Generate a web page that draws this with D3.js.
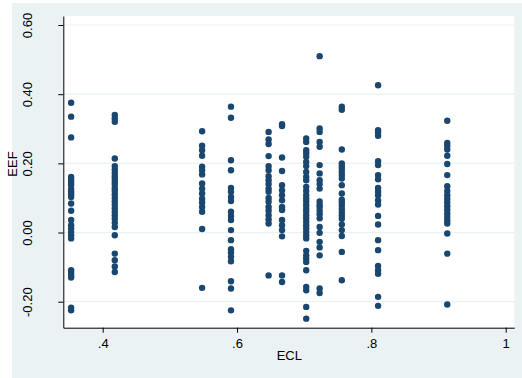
<!DOCTYPE html>
<html>
<head>
<meta charset="utf-8">
<script src="https://cdn.jsdelivr.net/npm/d3@7"></script>
<style>
  html, body { margin: 0; padding: 0; background: #ffffff; }
  svg { display: block; font-family: "Liberation Sans", Arial, sans-serif; }
</style>
</head>
<body>
<svg id="chart" width="522" height="378"></svg>
<script>
// ---- data ----
const eclValues = [0.353, 0.418, 0.548, 0.591, 0.647, 0.667, 0.703, 0.723, 0.756, 0.810, 0.913];

const eef0353 = [0.375, 0.335, 0.275, 0.161, 0.153, 0.146, 0.138, 0.126, 0.118, 0.111, 0.103, 0.084, 0.063, 0.036, 0.021, 0.012, 0.002, -0.008, -0.017, -0.109, -0.117, -0.124, -0.130, -0.217, -0.225];
const eef0418 = [0.34, 0.33, 0.32, 0.214, 0.192, 0.182, 0.172, 0.163, 0.155, 0.146, 0.138, 0.128, 0.120, 0.110, 0.100, 0.090, 0.080, 0.070, 0.060, 0.050, 0.040, 0.028, 0.016, -0.008, -0.061, -0.080, -0.098, -0.114];
const eef0548 = [0.293, 0.251, 0.238, 0.222, 0.190, 0.180, 0.168, 0.142, 0.127, 0.113, 0.098, 0.087, 0.074, 0.060, 0.010, -0.160];
const eef0591 = [0.364, 0.332, 0.209, 0.180, 0.129, 0.118, 0.103, 0.091, 0.060, 0.048, 0.036, 0.007, -0.022, -0.048, -0.058, -0.070, -0.083, -0.141, -0.162, -0.225];
const eef0647 = [0.291, 0.269, 0.256, 0.221, 0.192, 0.180, 0.163, 0.151, 0.140, 0.127, 0.118, 0.100, 0.089, 0.074, 0.063, 0.050, 0.038, 0.026, -0.124];
const eef0667 = [0.313, 0.308, 0.217, 0.178, 0.137, 0.122, 0.108, 0.093, 0.074, 0.065, 0.036, 0.021, 0.007, -0.011, -0.124, -0.143];
const eef0703 = [0.272, 0.262, 0.238, 0.229, 0.219, 0.204, 0.192, 0.175, 0.161, 0.151, 0.132, 0.120, 0.108, 0.098, 0.089, 0.079, 0.069, 0.060, 0.050, 0.041, 0.031, 0.021, 0.012, 0.002, -0.008, -0.017, -0.053, -0.066, -0.075, -0.085, -0.109, -0.157, -0.167, -0.215, -0.249];
const eef0723 = [0.510, 0.301, 0.291, 0.262, 0.248, 0.195, 0.171, 0.151, 0.140, 0.127, 0.090, 0.080, 0.074, 0.063, 0.053, 0.041, 0.016, -0.001, -0.027, -0.043, -0.066, -0.162, -0.175];
const eef0756 = [0.364, 0.355, 0.240, 0.200, 0.192, 0.185, 0.176, 0.166, 0.156, 0.137, 0.113, 0.095, 0.087, 0.078, 0.068, 0.058, 0.049, 0.040, 0.023, 0.007, -0.010, -0.056, -0.138];
const eef0810 = [0.426, 0.296, 0.289, 0.280, 0.206, 0.195, 0.166, 0.154, 0.129, 0.118, 0.108, 0.093, 0.081, 0.048, 0.023, -0.022, -0.051, -0.097, -0.109, -0.119, -0.186, -0.212];
const eef0913 = [0.323, 0.259, 0.250, 0.240, 0.222, 0.198, 0.166, 0.134, 0.120, 0.108, 0.097, 0.087, 0.076, 0.066, 0.055, 0.045, 0.035, 0.026, -0.003, -0.061, -0.208];

const eefColumns = [eef0353, eef0418, eef0548, eef0591, eef0647, eef0667, eef0703, eef0723, eef0756, eef0810, eef0913];

const xTicks = [0.4, 0.6, 0.8, 1];
const yTicks = [-0.2, 0, 0.2, 0.4, 0.6];
const xTitle = "ECL";
const yTitle = "EEF";

const points = [];
eclValues.forEach((ecl, i) => eefColumns[i].forEach(eef => points.push({ecl, eef})));

// ---- layout ----
const svg = d3.select("#chart");
const plotLeft = 63.3, plotRight = 514.3, plotTop = 16, plotBottom = 327.7;

const xBase = d3.scaleLinear().domain([0.4, 1]).range([102.7, 505.7]);
const yBase = d3.scaleLinear().domain([-0.2, 0.6]).range([301.7, 25]);
const x = d3.scaleLinear().domain([xBase.invert(plotLeft), xBase.invert(plotRight)]).range([plotLeft, plotRight]);
const y = d3.scaleLinear().domain([yBase.invert(plotBottom), yBase.invert(plotTop)]).range([plotBottom, plotTop]);

// background
svg.append("rect").attr("x", 12).attr("y", 3).attr("width", 510).attr("height", 375).attr("fill", "#eaf2f3");
svg.append("rect").attr("x", plotLeft).attr("y", plotTop).attr("width", plotRight - plotLeft).attr("height", plotBottom - plotTop).attr("fill", "#ffffff");

// grid
svg.append("g").selectAll("line").data(yTicks).join("line")
  .attr("x1", plotLeft).attr("x2", plotRight)
  .attr("y1", d => y(d)).attr("y2", d => y(d))
  .attr("stroke", "#eaf2f3").attr("stroke-width", 1.2);

// points
svg.append("g").selectAll("circle").data(points).join("circle")
  .attr("cx", d => x(d.ecl)).attr("cy", d => y(d.eef)).attr("r", 3.2)
  .attr("fill", "#1a476f");

// axes
const yAxis = d3.axisLeft(y).tickValues(yTicks).tickSize(5).tickSizeOuter(0).tickFormat(d => d.toFixed(2));
const gy = svg.append("g").attr("transform", `translate(${plotLeft},0)`).call(yAxis);
gy.select(".domain").attr("stroke", "#000");
gy.selectAll(".tick line").attr("stroke", "#000");
gy.selectAll(".tick text")
  .attr("transform", "rotate(-90)")
  .attr("x", 0).attr("y", -31.6).attr("dy", 0)
  .attr("text-anchor", "middle")
  .attr("font-size", 13).attr("font-family", "Liberation Sans, Arial, sans-serif").attr("fill", "#000");

const xAxis = d3.axisBottom(x).tickValues(xTicks).tickSize(5).tickSizeOuter(0)
  .tickFormat(d => d === 1 ? "1" : String(d).replace(/^0/, ""));
const gx = svg.append("g").attr("transform", `translate(0,${plotBottom})`).call(xAxis);
gx.select(".domain").attr("stroke", "#000");
gx.selectAll(".tick line").attr("stroke", "#000");
gx.selectAll(".tick text").attr("y", 20.3).attr("dy", 0)
  .attr("font-size", 13).attr("font-family", "Liberation Sans, Arial, sans-serif").attr("fill", "#000");

// titles
svg.append("text").attr("x", (plotLeft + plotRight) / 2 + 0.5).attr("y", 360)
  .attr("text-anchor", "middle").attr("font-size", 13).attr("fill", "#000").text(xTitle);
svg.append("text").attr("transform", "translate(16.7,164) rotate(-90)")
  .attr("text-anchor", "middle").attr("font-size", 13).attr("fill", "#000").text(yTitle);
</script>
</body>
</html>
